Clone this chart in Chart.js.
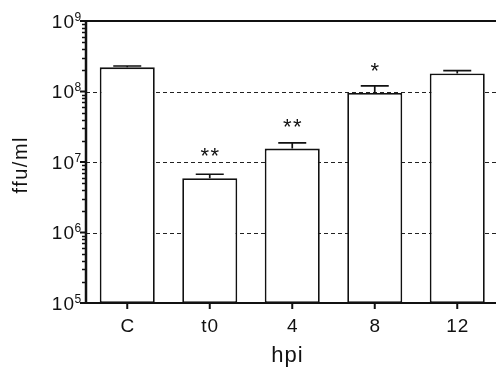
<!DOCTYPE html>
<html>
<head>
<meta charset="utf-8">
<script src="https://cdn.jsdelivr.net/npm/chart.js@4/dist/chart.umd.min.js"></script>
<style>
  html, body { margin: 0; padding: 0; background: #fff; overflow: hidden; }
  #wrap { width: 496px; height: 373px; overflow: hidden; }
  canvas { display: block; }
</style>
</head>
<body>
<div id="wrap"><canvas id="c" width="500" height="373"></canvas></div>
<script>
const categories = ['C', 't0', '4', '8', '12'];
const means = [2.2e8, 5.9e6, 1.55e7, 9.5e7, 1.8e8];
const errors = [1.0e7, 0.8e6, 3.2e6, 2.5e7, 1.8e7];
const significance = ['', '**', '**', '*', ''];
const yTickExponents = [5, 6, 7, 8, 9];
const gridExponents = [6, 7, 8];
const xTitle = 'hpi';
const yTitle = 'ffu/ml';

const FONT = '"Liberation Sans", Arial, Helvetica, sans-serif';
const INK = '#111';

function drawSpaced(ctx, text, x, y, spacing, align) {
  ctx.letterSpacing = spacing + 'px';
  const w = ctx.measureText(text).width - (text.length ? spacing : 0);
  let sx = x;
  if (align === 'center') sx = x - w / 2;
  else if (align === 'right') sx = x - w;
  ctx.textAlign = 'left';
  ctx.fillText(text, sx, y);
  ctx.letterSpacing = '0px';
  return w;
}

const gridPlugin = {
  id: 'dashGrid',
  beforeDatasetsDraw(chart) {
    const ctx = chart.ctx, y = chart.scales.y, a = chart.chartArea;
    ctx.save();
    ctx.strokeStyle = '#222';
    ctx.lineWidth = 1;
    ctx.setLineDash([4, 3]);
    gridExponents.forEach(e => {
      const py = Math.round(y.getPixelForValue(Math.pow(10, e))) + 0.5;
      ctx.beginPath();
      ctx.moveTo(a.left, py);
      ctx.lineTo(a.right, py);
      ctx.stroke();
    });
    ctx.restore();
  }
};

const axesPlugin = {
  id: 'axesDecor',
  afterDatasetsDraw(chart) {
    const ctx = chart.ctx, xs = chart.scales.x, ys = chart.scales.y, a = chart.chartArea;
    const meta = chart.getDatasetMeta(0);
    ctx.save();
    ctx.strokeStyle = INK;
    ctx.fillStyle = INK;

    // error bars (upward only)
    ctx.lineWidth = 1.7;
    means.forEach((m, i) => {
      const cx = meta.data[i].x;
      const top = ys.getPixelForValue(m);
      const cap = ys.getPixelForValue(m + errors[i]);
      ctx.beginPath();
      ctx.moveTo(cx, top);
      ctx.lineTo(cx, cap);
      ctx.moveTo(cx - 14, cap);
      ctx.lineTo(cx + 14, cap);
      ctx.stroke();
    });

    // significance stars (placed above the bar top)
    ctx.font = '22px ' + FONT;
    ctx.textBaseline = 'alphabetic';
    significance.forEach((s, i) => {
      if (!s) return;
      const cx = meta.data[i].x;
      const top = ys.getPixelForValue(means[i]);
      drawSpaced(ctx, s, cx, top - 15, 1.5, 'center');
    });

    // axis lines
    ctx.lineWidth = 2.5;
    ctx.beginPath();
    ctx.moveTo(a.left, a.top - 1);
    ctx.lineTo(a.left, a.bottom + 1);
    ctx.stroke();
    ctx.lineWidth = 2;
    ctx.beginPath();
    ctx.moveTo(a.left, a.bottom);
    ctx.lineTo(a.right, a.bottom);
    ctx.moveTo(a.left, a.top);
    ctx.lineTo(a.right, a.top);
    ctx.stroke();

    // y ticks (major + minor)
    ctx.lineWidth = 1.5;
    for (let e = yTickExponents[0]; e < yTickExponents[yTickExponents.length - 1]; e++) {
      for (let k = 2; k <= 9; k++) {
        const py = Math.round(ys.getPixelForValue(k * Math.pow(10, e))) + 0.5;
        ctx.beginPath();
        ctx.moveTo(a.left - 4, py);
        ctx.lineTo(a.left, py);
        ctx.stroke();
      }
    }
    ctx.lineWidth = 2;
    yTickExponents.forEach(e => {
      const py = ys.getPixelForValue(Math.pow(10, e));
      ctx.beginPath();
      ctx.moveTo(a.left - 6, py);
      ctx.lineTo(a.left, py);
      ctx.stroke();
    });

    // y tick labels 10^n
    yTickExponents.forEach(e => {
      const py = ys.getPixelForValue(Math.pow(10, e));
      ctx.font = '19px ' + FONT;
      drawSpaced(ctx, '10', 74, py + 6.6, 1, 'right');
      ctx.font = '12px ' + FONT;
      ctx.textAlign = 'left';
      ctx.fillText(String(e), 74.5, py - 0.5);
    });

    // x ticks and labels
    ctx.lineWidth = 2;
    ctx.font = '19px ' + FONT;
    categories.forEach((c, i) => {
      const px = xs.getPixelForValue(i);
      ctx.beginPath();
      ctx.moveTo(px, a.bottom);
      ctx.lineTo(px, a.bottom + 6);
      ctx.stroke();
      drawSpaced(ctx, c, px, a.bottom + 28.5, 1, 'center');
    });

    // axis titles
    ctx.font = '22px ' + FONT;
    drawSpaced(ctx, xTitle, 287, 362, 1, 'center');
    ctx.save();
    ctx.translate(27, 165.5);
    ctx.rotate(-Math.PI / 2);
    ctx.font = '20px ' + FONT;
    drawSpaced(ctx, yTitle, 0, 0, 1.5, 'center');
    ctx.restore();

    ctx.restore();
  }
};

new Chart(document.getElementById('c'), {
  type: 'bar',
  data: {
    labels: categories,
    datasets: [{
      data: means,
      backgroundColor: '#ffffff',
      borderColor: INK,
      borderWidth: 1.8,
      borderSkipped: false,
      barPercentage: 0.667,
      categoryPercentage: 1
    }]
  },
  options: {
    responsive: false,
    animation: false,
    devicePixelRatio: 1,
    layout: { padding: { left: 86, top: 21, right: 1.5, bottom: 70 } },
    plugins: { legend: { display: false }, tooltip: { enabled: false } },
    scales: {
      x: { display: false },
      y: { type: 'logarithmic', display: false, min: 1e5, max: 1e9 }
    }
  },
  plugins: [gridPlugin, axesPlugin]
});
</script>
</body>
</html>
